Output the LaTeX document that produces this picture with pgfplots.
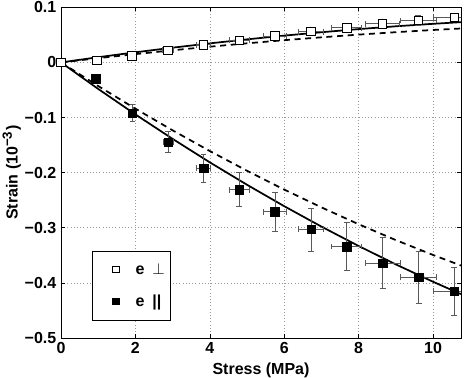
\documentclass[border=0pt]{standalone}
\usepackage{fontspec}
\setmainfont{Liberation Sans}
\usepackage{pgfplots}
\usepackage{pgfplotstable}
\pgfplotsset{compat=1.18}
\pgfplotstableread{
x ex y ey
0 0 0 0
0.96 0.05 0.004 0.002
1.91 0.10 0.012 0.002
2.87 0.14 0.022 0.003
3.83 0.18 0.032 0.003
4.79 0.26 0.040 0.003
5.75 0.31 0.048 0.004
6.72 0.34 0.056 0.004
7.68 0.40 0.063 0.005
8.64 0.46 0.070 0.005
9.60 0.49 0.076 0.009
10.57 0.56 0.082 0.006
}\perpdata
\pgfplotstableread{
x ex y ey
0.94 0.05 -0.030 0.002
1.92 0.10 -0.092 0.015
2.88 0.14 -0.145 0.019
3.83 0.18 -0.192 0.026
4.79 0.26 -0.231 0.031
5.75 0.31 -0.271 0.036
6.72 0.34 -0.303 0.039
7.68 0.40 -0.334 0.043
8.65 0.46 -0.364 0.046
9.61 0.49 -0.390 0.048
10.57 0.56 -0.415 0.044
}\pardata
\begin{document}
\begin{tikzpicture}
\path[use as bounding box] (-45.75pt,-30pt) rectangle (302.25pt,253.5pt);
\begin{axis}[at={(0,0)}, anchor=south west, scale only axis, width=300pt, height=248pt,
  xmin=0, xmax=10.75, ymin=-0.5, ymax=0.1,
  xtick={0,2,4,6,8,10},
  ytick={-0.5,-0.4,-0.3,-0.2,-0.1,0,0.1},
  yticklabels={−0.5,−0.4,−0.3,−0.2,−0.1,0,0.1},
  /pgf/number format/assume math mode=true,
  tick label style={font=\fontsize{12}{14}\selectfont\bfseries},
  label style={font=\fontsize{12}{14}\selectfont\bfseries},
  xlabel={Stress (MPa)}, ylabel={Strain (10\textsuperscript{\fontsize{10}{12}\selectfont −3})},
  ylabel style={yshift=-4pt},
  grid=major, grid style={dotted, black!40, line width=0.5pt},
  tick align=inside, major tick length=3pt, tick style={black, line width=0.5pt},
  axis line style={line width=0.6pt},
  legend style={at={(0.0768,0.0523)}, anchor=south west, draw=black, line width=0.6pt,
    inner xsep=2pt, inner ysep=7pt, row sep=10pt,
    font=\fontsize{12}{14}\selectfont\bfseries,
    /tikz/every odd column/.append style={column sep=4pt}},
  legend image code/.code={%
    \path (0pt,0pt) (24pt,0pt);
    \draw[#1, mark size=2.4pt, mark repeat=2, mark phase=2] plot coordinates {(0pt,0pt) (15.5pt,0pt) (24pt,0pt)};},
  legend cell align=left,
]
% model lines
\addplot[forget plot, black, line width=1.3pt] coordinates {(0,0) (1,0.0095) (2,0.0184) (3,0.0268) (4,0.0346) (5,0.0419) (6,0.0487) (7,0.0548) (8,0.0605) (9,0.0656) (10,0.0701) (10.75,0.0731)};
\addplot[forget plot, black, line width=1.3pt, dash pattern=on 4.5pt off 3.5pt] coordinates {(0,0) (1,0.0078) (2,0.0151) (3,0.0221) (4,0.0286) (5,0.0347) (6,0.0404) (7,0.0456) (8,0.0505) (9,0.0549) (10,0.0589) (10.75,0.0616)};
\addplot[forget plot, black, line width=1.3pt] coordinates {(0,0) (1,-0.0481) (2,-0.0943) (3,-0.1387) (4,-0.1813) (5,-0.2220) (6,-0.2609) (7,-0.2979) (8,-0.3331) (9,-0.3665) (10,-0.3980) (10.75,-0.4204)};
\addplot[forget plot, black, line width=1.3pt, dash pattern=on 4.5pt off 3.5pt] coordinates {(0,0) (1,-0.0428) (2,-0.0839) (3,-0.1232) (4,-0.1608) (5,-0.1966) (6,-0.2307) (7,-0.2630) (8,-0.2936) (9,-0.3224) (10,-0.3494) (10.75,-0.3685)};
% data
\addplot[only marks, mark=square*, mark size=3.2pt, mark options={fill=white, draw=black, line width=0.6pt},
  error bars/.cd, x dir=both, x explicit, y dir=both, y explicit,
  error bar style={black!65, line width=0.6pt},
  error mark options={rotate=90, mark size=2.2pt, black!65, line width=0.6pt}]
  table[x=x, y=y, x error=ex, y error=ey] {\perpdata};
\addlegendentry{e\enspace$\perp$}
\addplot[only marks, mark=square*, mark size=3.2pt, mark options={fill=black, draw=black},
  error bars/.cd, x dir=both, x explicit, y dir=both, y explicit,
  error bar style={black!65, line width=0.6pt},
  error mark options={rotate=90, mark size=2.2pt, black!65, line width=0.6pt}]
  table[x=x, y=y, x error=ex, y error=ey] {\pardata};
\addlegendentry{e\enspace||}
\end{axis}
\end{tikzpicture}
\end{document}
